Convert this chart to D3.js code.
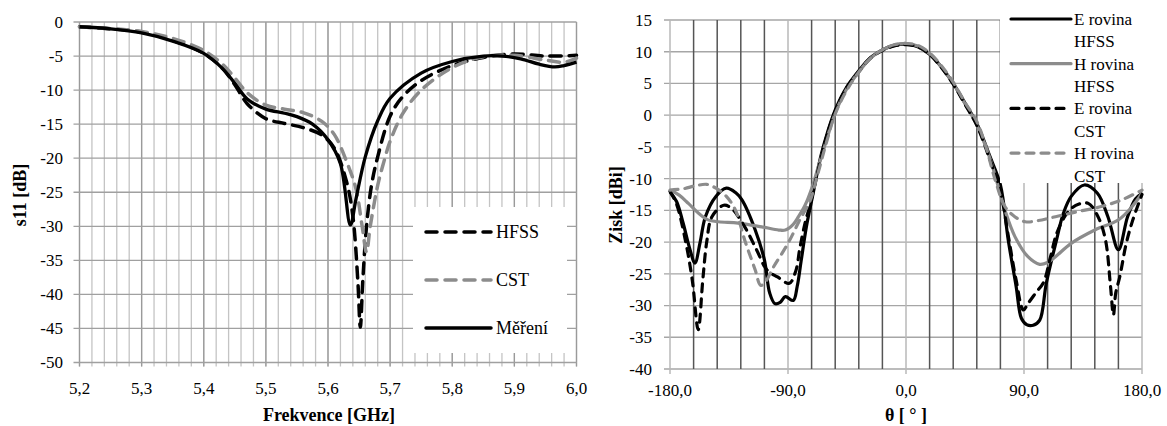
<!DOCTYPE html>
<html>
<head>
<meta charset="utf-8">
<script src="https://cdn.jsdelivr.net/npm/d3@7"></script>
<style>
  body { margin: 0; background: #fff; }
</style>
</head>
<body>
<svg id="chart" width="1167" height="426"></svg>
<script>
// left chart: s11 vs frequency [GHz]
var s11Hfss = [[5.20,-0.7],[5.25,-1.0],[5.30,-1.5],[5.35,-2.7],[5.40,-4.6],[5.43,-6.8],[5.45,-9.2],[5.47,-12.0],[5.50,-14.2],[5.53,-14.9],[5.56,-15.5],[5.59,-16.6],[5.61,-18.5],[5.63,-23.5],[5.64,-28.5],[5.648,-38],[5.652,-44.8],[5.656,-38],[5.662,-30],[5.67,-24],[5.68,-19.8],[5.70,-13.8],[5.72,-11.0],[5.75,-8.6],[5.80,-6.4],[5.85,-5.2],[5.90,-4.7],[5.95,-5.0],[6.00,-4.9]];
var s11Cst = [[5.20,-0.7],[5.25,-0.95],[5.30,-1.4],[5.35,-2.4],[5.40,-4.2],[5.43,-6.2],[5.45,-8.2],[5.47,-10.4],[5.50,-12.2],[5.53,-12.8],[5.56,-13.3],[5.59,-14.6],[5.61,-16.5],[5.63,-20.5],[5.645,-24.5],[5.655,-30],[5.662,-33.8],[5.668,-30],[5.68,-24],[5.69,-20.5],[5.70,-17.5],[5.72,-13.5],[5.75,-10.0],[5.80,-6.7],[5.85,-5.1],[5.90,-4.9],[5.95,-5.6],[5.98,-5.9],[6.00,-5.3]];
var s11Mereni = [[5.20,-0.7],[5.25,-1.0],[5.30,-1.6],[5.35,-2.8],[5.40,-4.6],[5.43,-6.8],[5.45,-9.0],[5.47,-11.3],[5.50,-12.8],[5.53,-13.4],[5.55,-13.9],[5.575,-15.0],[5.60,-17.3],[5.62,-20.8],[5.636,-29.8],[5.645,-26.0],[5.66,-19.8],[5.68,-14.5],[5.70,-11.2],[5.75,-7.5],[5.80,-5.8],[5.85,-5.0],[5.88,-5.0],[5.91,-5.4],[5.94,-6.2],[5.965,-6.6],[5.98,-6.4],[6.00,-5.9]];
var freqTicks = [5.2, 5.3, 5.4, 5.5, 5.6, 5.7, 5.8, 5.9, 6.0];
var s11Ticks = [0, -5, -10, -15, -20, -25, -30, -35, -40, -45, -50];

// right chart: gain vs theta [deg]
var eHfss = [[-180,-12.1],[-175,-13.6],[-170,-17],[-165,-21],[-161,-23.3],[-157,-20],[-153,-16],[-145,-12.8],[-137,-11.5],[-130,-12.2],[-125,-13.4],[-115,-18.1],[-108,-22.8],[-104,-28],[-100,-29.7],[-96,-29.5],[-92,-28.6],[-86,-29.2],[-83,-27],[-80,-23],[-76,-17.6],[-71,-12.5],[-65,-6.5],[-60,-2.8],[-54,0.8],[-45,4.5],[-36,7.0],[-27,9.1],[-18,10.3],[-9,11.0],[0,11.2],[9,10.8],[18,9.6],[27,7.6],[36,5.0],[45,1.9],[54,-1.3],[64,-6.5],[72,-11],[78,-19.7],[84,-27],[88,-32],[92,-33],[97,-33.1],[102,-32.3],[107,-26.5],[115,-19.5],[120,-15.5],[126,-12.8],[136,-11.0],[146,-12.3],[154,-16],[162,-21.2],[169,-16],[175,-13.2],[180,-12.3]];
var hHfss = [[-180,-11.8],[-173,-12.6],[-166,-13.9],[-158,-15.5],[-151,-16.5],[-143,-16.8],[-128,-17.0],[-110,-17.6],[-97,-18.1],[-92,-18.1],[-86,-17.2],[-82,-16],[-77,-14.2],[-72,-11.6],[-66,-7.5],[-60,-3.5],[-54,0.3],[-45,4.2],[-36,6.8],[-27,9.0],[-18,10.3],[-9,11.0],[0,11.3],[9,10.9],[18,9.7],[27,7.6],[36,5.0],[45,1.8],[54,-1.5],[64,-6.8],[70,-11],[75.5,-15],[83,-19.1],[93,-22.3],[102,-23.5],[108,-23.2],[114,-22.3],[126,-20.2],[144,-18.1],[162,-16.5],[172,-14.5],[180,-12.3]];
var eCst = [[-180,-12],[-175,-14],[-168,-20],[-163,-26],[-158.5,-33.8],[-155,-26],[-152,-20],[-148,-16],[-139,-14.2],[-133,-14.7],[-123,-17.6],[-114,-21.2],[-106,-24.4],[-98,-25.5],[-89,-26.5],[-84,-24.5],[-81,-21],[-77,-17],[-73,-14],[-68,-9.5],[-60,-3.0],[-54,0.6],[-45,4.4],[-36,6.9],[-27,9.0],[-18,10.2],[-9,10.9],[0,11.1],[9,10.8],[18,9.6],[27,7.5],[36,4.9],[45,1.7],[54,-1.6],[64,-7.0],[72,-12],[78,-19],[84,-26],[89.5,-30.7],[93,-29.7],[99,-28],[105,-26.3],[110,-22.5],[115,-18.6],[121,-16],[126,-14.7],[132,-14],[139,-13.9],[146,-15.8],[152,-19.5],[156,-27],[158.2,-31.5],[160,-28],[163,-25.5],[168,-20.2],[173,-16.5],[180,-12.5]];
var hCst = [[-180,-11.8],[-170,-11.6],[-160,-11.1],[-152,-10.9],[-145,-11.5],[-137,-12.8],[-130,-15],[-123,-19.7],[-115,-24.4],[-111,-26.8],[-108,-26.5],[-101,-23.9],[-90,-20.2],[-81,-16.5],[-73,-13.4],[-68,-9.8],[-60,-3.8],[-54,0.2],[-45,4.0],[-36,6.8],[-27,9.0],[-18,10.3],[-9,11.1],[0,11.3],[9,11.0],[18,9.8],[27,7.8],[36,5.2],[45,2.0],[54,-1.0],[61,-5],[68,-10.2],[75.5,-14.4],[83,-16],[91,-16.8],[101,-16.6],[114,-16],[131,-15.2],[149,-14.4],[164,-13.4],[180,-11.8]];
var thetaTicks = [-180, -90, 0, 90, 180];
var gainTicks = [15, 10, 5, 0, -5, -10, -15, -20, -25, -30, -35, -40];

var FONT = "'Liberation Serif', 'DejaVu Serif', 'Times New Roman', serif";
var svg = d3.select("#chart").attr("font-family", FONT).style("font-family", FONT);
var black = "#000", grey = "#8c8c8c";
var comma = function(d) { return d3.format(".1f")(d).replace(".", ",").replace("−", "-"); };

// helper so every label gets the serif face directly
function label(g, x, y, txt, size, anchor, bold) {
  return g.append("text").attr("x", x).attr("y", y).attr("dy", "0.35em")
    .attr("text-anchor", anchor || "start")
    .attr("font-family", FONT).style("font-family", FONT)
    .style("font-size", size + "px").style("font-weight", bold ? "bold" : "normal")
    .attr("fill", "#000").text(txt);
}

// ---------- left chart ----------
var x1 = d3.scaleLinear().domain([5.2, 6.0]).range([79.5, 576.5]);
var y1 = d3.scaleLinear().domain([-50, 0]).range([362.5, 22]);
var g1 = svg.append("g");

// minor vertical grid every 0.02 GHz
var minorF = d3.range(0, 41).map(function(i) { return 5.2 + i * 0.02; });
g1.selectAll(".vminor").data(minorF).enter().append("line")
  .attr("x1", d => x1(d)).attr("x2", d => x1(d))
  .attr("y1", y1(0)).attr("y2", y1(-50) + 4)
  .attr("stroke", "#c4c4c4").attr("stroke-width", 1.3);
g1.selectAll(".vmajor").data(freqTicks).enter().append("line")
  .attr("x1", d => x1(d)).attr("x2", d => x1(d))
  .attr("y1", y1(0)).attr("y2", y1(-50) + 4)
  .attr("stroke", "#9a9a9a").attr("stroke-width", 1.3);
g1.selectAll(".hgrid").data(s11Ticks).enter().append("line")
  .attr("x1", x1(5.2) - 6).attr("x2", x1(6.0))
  .attr("y1", d => y1(d)).attr("y2", d => y1(d))
  .attr("stroke", "#a0a0a0").attr("stroke-width", 1.3);

var line1 = d3.line().x(d => x1(d[0])).y(d => y1(d[1])).curve(d3.curveCatmullRom.alpha(0.5));
g1.append("path").datum(s11Hfss).attr("d", line1).attr("fill", "none")
  .attr("stroke", black).attr("stroke-width", 3.5).attr("stroke-dasharray", "11,8").attr("stroke-linecap", "round");
g1.append("path").datum(s11Cst).attr("d", line1).attr("fill", "none")
  .attr("stroke", grey).attr("stroke-width", 3.5).attr("stroke-dasharray", "11,8").attr("stroke-linecap", "round");
g1.append("path").datum(s11Mereni).attr("d", line1).attr("fill", "none")
  .attr("stroke", black).attr("stroke-width", 3.3).attr("stroke-linejoin", "round");

// axes labels
s11Ticks.forEach(function(d) { label(g1, 63, y1(d), String(d), 17, "end"); });
freqTicks.forEach(function(d) { label(g1, x1(d), 388, comma(d), 17, "middle"); });
label(g1, 329, 415, "Frekvence [GHz]", 18, "middle", true);
label(g1, 0, 0, "s11 [dB]", 18, "middle", true).attr("transform", "translate(20,195) rotate(-90)");

// legend
g1.append("rect").attr("x", 413).attr("y", 207).attr("width", 154).attr("height", 146).attr("fill", "#fff");
var leg1 = [
  {name: "HFSS", color: black, dash: "11,8", y: 232},
  {name: "CST", color: grey, dash: "11,8", y: 280},
  {name: "Měření", color: black, dash: null, y: 328}
];
leg1.forEach(function(l) {
  g1.append("line").attr("x1", 426).attr("x2", 491).attr("y1", l.y).attr("y2", l.y)
    .attr("stroke", l.color).attr("stroke-width", 3.5).attr("stroke-linecap", "round")
    .attr("stroke-dasharray", l.dash);
  label(g1, 496, l.y, l.name, 18);
});

// ---------- right chart ----------
var x2 = d3.scaleLinear().domain([-180, 180]).range([670, 1142]);
var y2 = d3.scaleLinear().domain([-40, 15]).range([369, 20]);
var g2 = svg.append("g");

g2.selectAll(".hgrid").data(gainTicks).enter().append("line")
  .attr("x1", x2(-180) - 6).attr("x2", x2(180))
  .attr("y1", d => y2(d)).attr("y2", d => y2(d))
  .attr("stroke", "#a6a6a6").attr("stroke-width", 1.3);
var minorT = d3.range(-180, 181, 18).filter(d => d % 90 !== 0);
g2.selectAll(".vminor").data(minorT).enter().append("line")
  .attr("x1", d => x2(d)).attr("x2", d => x2(d))
  .attr("y1", y2(15)).attr("y2", y2(-40))
  .attr("stroke", "#555").attr("stroke-width", 1.5);
g2.selectAll(".vmajor").data(thetaTicks).enter().append("line")
  .attr("x1", d => x2(d)).attr("x2", d => x2(d))
  .attr("y1", y2(15)).attr("y2", y2(-40) + 5)
  .attr("stroke", "#b8b8b8").attr("stroke-width", 1.5);

var line2 = d3.line().x(d => x2(d[0])).y(d => y2(d[1])).curve(d3.curveCatmullRom.alpha(0.5));
var series2 = [
  {name: "E rovina", sub: "HFSS", data: eHfss, color: black, dash: null},
  {name: "H rovina", sub: "HFSS", data: hHfss, color: grey, dash: null},
  {name: "E rovina", sub: "CST", data: eCst, color: black, dash: "8,7"},
  {name: "H rovina", sub: "CST", data: hCst, color: grey, dash: "8,7"}
];
series2.forEach(function(s) {
  g2.append("path").datum(s.data).attr("d", line2).attr("fill", "none")
    .attr("stroke", s.color).attr("stroke-width", 3.2)
    .attr("stroke-linecap", s.dash ? "round" : "butt").attr("stroke-linejoin", "round")
    .attr("stroke-dasharray", s.dash);
});

gainTicks.forEach(function(d) { label(g2, 652, y2(d), String(d), 17, "end"); });
thetaTicks.forEach(function(d) { label(g2, x2(d), 390, comma(d), 17, "middle"); });
label(g2, 906, 415, "θ [ ° ]", 18, "middle", true);
label(g2, 0, 0, "Zisk [dBi]", 18, "middle", true).attr("transform", "translate(616,205) rotate(-90)");

// legend over top right of plot
g2.append("rect").attr("x", 1000).attr("y", 0).attr("width", 167).attr("height", 183).attr("fill", "#fff");
series2.forEach(function(s, i) {
  var ly = 19 + i * 44.7;
  g2.append("line").attr("x1", 1011).attr("x2", 1071).attr("y1", ly).attr("y2", ly)
    .attr("stroke", s.color).attr("stroke-width", 3.2)
    .attr("stroke-linecap", "round").attr("stroke-dasharray", s.dash);
  label(g2, 1074, ly, s.name, 17);
  label(g2, 1074, ly + 22.5, s.sub, 17);
});
</script>
</body>
</html>
